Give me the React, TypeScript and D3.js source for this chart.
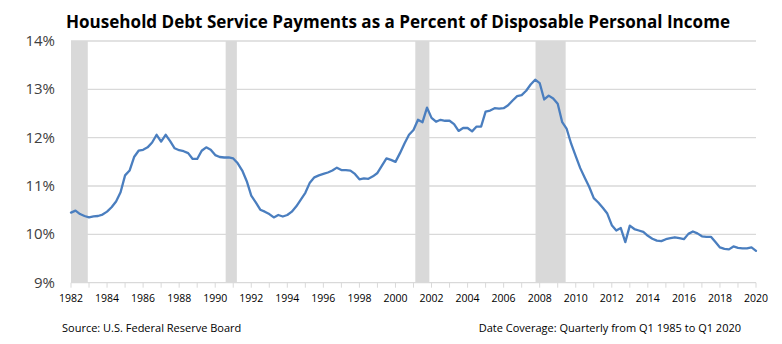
import React from "react";
import * as d3 from "d3";

const title = "Household Debt Service Payments as a Percent of Disposable Personal Income";
const sourceText = "Source: U.S. Federal Reserve Board";
const coverageText = "Date Coverage: Quarterly from Q1 1985 to Q1 2020";

const startYear = 1982;
const debtServicePct: number[] = [
  10.45, 10.49, 10.42, 10.38,
  10.35, 10.37, 10.38, 10.41,
  10.47, 10.56, 10.68, 10.87,
  11.22, 11.32, 11.6, 11.73,
  11.75, 11.8, 11.9, 12.06,
  11.92, 12.06, 11.93, 11.78,
  11.74, 11.72, 11.68, 11.56,
  11.56, 11.73, 11.8, 11.75,
  11.64, 11.6, 11.59, 11.59,
  11.57, 11.47, 11.32, 11.1,
  10.8, 10.66, 10.51, 10.47,
  10.42, 10.35, 10.4, 10.37,
  10.4, 10.47, 10.58, 10.72,
  10.86, 11.07, 11.18, 11.22,
  11.25, 11.28, 11.32, 11.38,
  11.33, 11.33, 11.32, 11.25,
  11.14, 11.16, 11.15, 11.2,
  11.27, 11.42, 11.57, 11.54,
  11.5, 11.68, 11.88, 12.06,
  12.16, 12.37, 12.32, 12.62,
  12.41, 12.33, 12.37, 12.35,
  12.35, 12.28, 12.14, 12.2,
  12.2, 12.13, 12.23, 12.23,
  12.54, 12.56, 12.61, 12.6,
  12.61, 12.67, 12.77, 12.86,
  12.88, 12.97, 13.1, 13.2,
  13.13, 12.79, 12.87, 12.81,
  12.7, 12.32, 12.18, 11.87,
  11.62, 11.37, 11.17, 10.98,
  10.75, 10.66, 10.55, 10.43,
  10.19, 10.08, 10.13, 9.84,
  10.18, 10.11, 10.08, 10.05,
  9.97, 9.91, 9.87, 9.86,
  9.9, 9.92, 9.94, 9.92,
  9.9, 10.01, 10.06, 10.02,
  9.96, 9.95, 9.95, 9.84,
  9.73, 9.7, 9.69, 9.75,
  9.72, 9.71, 9.71, 9.73,
  9.66,
];

const recessionStarts = [1982.0, 1990.58, 2001.1, 2007.77];
const recessionEnds = [1982.93, 1991.2, 2001.88, 2009.44];

const yTicks = [9, 10, 11, 12, 13, 14];
const xLabelYears = d3.range(1982, 2021, 2);
const xMinorYears = d3.range(1982, 2021, 1);

const W = 782;
const H = 344;
const FONT = "'Liberation Sans Narrow', 'Arial Narrow', 'Open Sans', sans-serif";

export default function App() {
  const x = d3.scaleLinear().domain([1982, 2020]).range([71, 756]);
  const y = d3.scaleLinear().domain([9, 14]).range([282.7, 41]);

  const points = debtServicePct.map((v, i) => ({ t: startYear + i * 0.25, v }));
  const line = d3
    .line<{ t: number; v: number }>()
    .x((d) => x(d.t))
    .y((d) => y(d.v));

  const textColor = "#404040";

  return (
    <svg
      width={W}
      height={H}
      style={{ position: "absolute", left: 0, top: 0, background: "#fff" }}
    >
      <rect width={W} height={H} fill="#fff" />
      <text
        x={398}
        y={28}
        textAnchor="middle"
        fontFamily="'Open Sans', sans-serif"
        fontWeight="bold"
        fontSize={18}
        fill="#000"
        textLength={664}
        lengthAdjust="spacingAndGlyphs"
      >
        {title}
      </text>

      {recessionStarts.map((s, i) => (
        <rect
          key={"r" + i}
          x={x(s)}
          y={y(14)}
          width={x(recessionEnds[i]) - x(s)}
          height={y(9) - y(14)}
          fill="#d9d9d9"
        />
      ))}

      {yTicks.slice(1).map((t) => (
        <line
          key={"g" + t}
          x1={x(1982)}
          x2={x(2020)}
          y1={y(t)}
          y2={y(t)}
          stroke="#d9d9d9"
          strokeWidth={1.3}
        />
      ))}

      <line x1={x(1982)} x2={x(2020)} y1={y(9)} y2={y(9)} stroke="#d9d9d9" strokeWidth={1.3} />
      {xMinorYears.map((yr) => (
        <line
          key={"t" + yr}
          x1={x(yr)}
          x2={x(yr)}
          y1={y(9)}
          y2={y(9) + 5}
          stroke="#d9d9d9"
          strokeWidth={1}
        />
      ))}

      {yTicks.map((t) => (
        <text
          key={"yl" + t}
          x={55}
          y={y(t) + 5}
          textAnchor="end"
          fontFamily={FONT}
          fontSize={15}
          fill={textColor}
        >
          {t + "%"}
        </text>
      ))}

      {xLabelYears.map((yr) => (
        <text
          key={"xl" + yr}
          x={x(yr)}
          y={302}
          textAnchor="middle"
          fontFamily={FONT}
          fontSize={10.5}
          fill="#000"
        >
          {yr}
        </text>
      ))}

      <path
        d={line(points) || ""}
        fill="none"
        stroke="#4a7ebf"
        strokeWidth={2.3}
        strokeLinejoin="round"
        strokeLinecap="round"
      />

      <text x={62} y={332} fontFamily={FONT} fontSize={11} fill="#000">
        {sourceText}
      </text>
      <text x={741} y={332} textAnchor="end" fontFamily={FONT} fontSize={11} fill="#000">
        {coverageText}
      </text>
    </svg>
  );
}
